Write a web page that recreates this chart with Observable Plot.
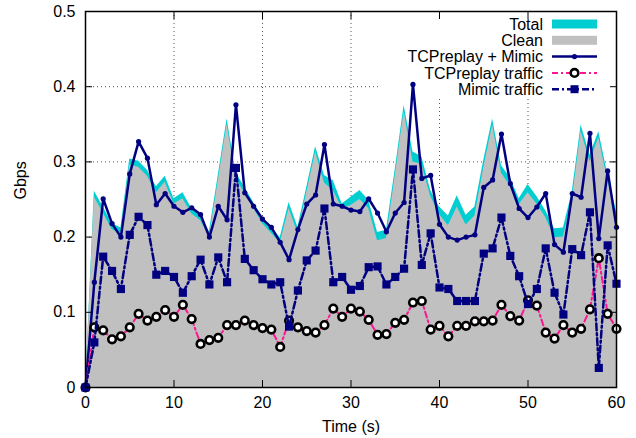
<!DOCTYPE html>
<html>
<head>
<meta charset="utf-8">
<script src="https://cdn.jsdelivr.net/npm/d3@7"></script>
<script src="https://cdn.jsdelivr.net/npm/@observablehq/plot@0.6"></script>
<style>
  html, body { margin: 0; padding: 0; background: #fff; }
  #chart { width: 636px; height: 438px; }
</style>
</head>
<body>
<div id="chart"></div>
<script>
// ---- Data ----
const time = d3.range(0, 61);
const xTicks = [0, 10, 20, 30, 40, 50, 60];
const yTicks = [0, 0.1, 0.2, 0.3, 0.4, 0.5];
const xLabel = "Time (s)";
const yLabel = "Gbps";

const total = [0, 0.261, 0.240, 0.218, 0.212, 0.304, 0.301, 0.289, 0.267, 0.281,
  0.251, 0.259, 0.238, 0.229, 0.207, 0.282, 0.357, 0.286, 0.266, 0.246,
  0.226, 0.213, 0.199, 0.246, 0.213, 0.266, 0.320, 0.282, 0.275, 0.244,
  0.253, 0.262, 0.249, 0.206, 0.209, 0.290, 0.375, 0.313, 0.307, 0.262,
  0.240, 0.228, 0.255, 0.229, 0.240, 0.302, 0.357, 0.295, 0.279, 0.251,
  0.270, 0.254, 0.235, 0.211, 0.212, 0.260, 0.349, 0.309, 0.340, 0.284, 0.234];

const clean = [0, 0.253, 0.232, 0.210, 0.204, 0.296, 0.293, 0.281, 0.259, 0.273,
  0.244, 0.251, 0.231, 0.222, 0.200, 0.275, 0.350, 0.278, 0.258, 0.238,
  0.218, 0.205, 0.192, 0.238, 0.205, 0.259, 0.313, 0.272, 0.262, 0.238,
  0.242, 0.250, 0.238, 0.195, 0.198, 0.282, 0.367, 0.300, 0.297, 0.254,
  0.230, 0.215, 0.240, 0.216, 0.228, 0.292, 0.349, 0.285, 0.268, 0.243,
  0.259, 0.244, 0.226, 0.199, 0.200, 0.250, 0.341, 0.300, 0.332, 0.276, 0.226];

const tcpMimic = [0, 0.140, 0.251, 0.218, 0.200, 0.284, 0.327, 0.305, 0.243, 0.258,
  0.241, 0.233, 0.239, 0.230, 0.200, 0.241, 0.223, 0.376, 0.259, 0.241,
  0.224, 0.213, 0.193, 0.170, 0.210, 0.244, 0.256, 0.323, 0.244, 0.241,
  0.236, 0.234, 0.251, 0.232, 0.207, 0.232, 0.246, 0.403, 0.278, 0.282,
  0.217, 0.200, 0.196, 0.200, 0.203, 0.266, 0.276, 0.337, 0.271, 0.238,
  0.226, 0.240, 0.258, 0.190, 0.180, 0.258, 0.253, 0.338, 0.198, 0.288, 0.213];

const tcpreplay = [0, 0.080, 0.076, 0.064, 0.068, 0.080, 0.098, 0.089, 0.094, 0.103,
  0.094, 0.110, 0.091, 0.058, 0.063, 0.066, 0.083, 0.083, 0.089, 0.083,
  0.079, 0.077, 0.054, 0.089, 0.080, 0.075, 0.073, 0.083, 0.105, 0.094,
  0.105, 0.101, 0.090, 0.070, 0.071, 0.086, 0.090, 0.113, 0.115, 0.077,
  0.082, 0.068, 0.082, 0.082, 0.088, 0.088, 0.089, 0.110, 0.095, 0.089,
  0.116, 0.109, 0.073, 0.065, 0.083, 0.073, 0.078, 0.104, 0.172, 0.098, 0.078];

const mimic = [0, 0.060, 0.174, 0.155, 0.131, 0.203, 0.227, 0.216, 0.150, 0.155,
  0.147, 0.126, 0.148, 0.170, 0.137, 0.173, 0.140, 0.292, 0.171, 0.156,
  0.144, 0.137, 0.140, 0.081, 0.129, 0.169, 0.182, 0.238, 0.140, 0.147,
  0.130, 0.135, 0.160, 0.161, 0.137, 0.147, 0.158, 0.290, 0.163, 0.205,
  0.133, 0.131, 0.115, 0.115, 0.115, 0.178, 0.185, 0.226, 0.175, 0.148,
  0.111, 0.131, 0.185, 0.126, 0.097, 0.184, 0.176, 0.233, 0.026, 0.189, 0.138];

const seriesNames = ["Total", "Clean", "TCPreplay + Mimic", "TCPreplay traffic", "Mimic traffic"];

// ---- Styles ----
const C_TOTAL = "#00ced1";
const C_CLEAN = "#c0c0c0";
const C_NAVY = "#000080";
const C_PINK = "#ff1493";
const FONT = "'Liberation Sans', Arial, Helvetica, sans-serif";

const rows = time.map((t, i) => ({
  t, total: total[i], clean: clean[i], tcpMimic: tcpMimic[i],
  tcpreplay: tcpreplay[i], mimic: mimic[i]
}));

// Legend (inside plot, opaque white box, top-right) drawn with the library's render hook
function legend(index, scales, values, dimensions) {
  const g = d3.create("svg:g").attr("font-family", FONT).attr("font-size", 16);
  g.append("rect").attr("x", 380).attr("y", 12).attr("width", 234).attr("height", 85).attr("fill", "white");
  const textX = 543, s1 = 552, s2 = 597, mid = (s1 + s2) / 2;
  seriesNames.forEach((name, i) => {
    const y = 24 + i * 16.3;
    g.append("text").attr("x", textX).attr("y", y).attr("dy", "0.35em")
      .attr("text-anchor", "end").attr("fill", "black").text(name);
    if (i === 0) {
      g.append("rect").attr("x", s1).attr("y", y - 4.5).attr("width", s2 - s1).attr("height", 9).attr("fill", C_TOTAL);
    } else if (i === 1) {
      g.append("rect").attr("x", s1).attr("y", y - 4.5).attr("width", s2 - s1).attr("height", 9).attr("fill", C_CLEAN);
    } else if (i === 2) {
      g.append("line").attr("x1", s1).attr("x2", s2).attr("y1", y).attr("y2", y).attr("stroke", C_NAVY).attr("stroke-width", 2.5);
      g.append("circle").attr("cx", mid).attr("cy", y).attr("r", 2.6).attr("fill", C_NAVY);
    } else if (i === 3) {
      g.append("line").attr("x1", s1).attr("x2", s2).attr("y1", y).attr("y2", y).attr("stroke", C_PINK).attr("stroke-width", 2).attr("stroke-dasharray", "6,3,2,3");
      g.append("circle").attr("cx", mid).attr("cy", y).attr("r", 3.8).attr("fill", "white").attr("stroke", "black").attr("stroke-width", 2.6);
    } else {
      g.append("line").attr("x1", s1).attr("x2", s2).attr("y1", y).attr("y2", y).attr("stroke", C_NAVY).attr("stroke-width", 2.5).attr("stroke-dasharray", "7,3,2,3");
      g.append("rect").attr("x", mid - 4).attr("y", y - 4).attr("width", 8).attr("height", 8).attr("fill", C_NAVY);
    }
  });
  return g.node();
}

const chart = Plot.plot({
  width: 636,
  height: 438,
  marginLeft: 85,
  marginRight: 20,
  marginTop: 11,
  marginBottom: 51,
  style: { fontFamily: FONT, fontSize: "16px", background: "white", color: "black", overflow: "visible" },
  x: { domain: [0, 60], ticks: xTicks, label: null },
  y: { domain: [0, 0.5], ticks: yTicks, label: null },
  marks: [
    Plot.gridY(yTicks.slice(1, -1), { stroke: "#555", strokeOpacity: 1, strokeWidth: 1, strokeDasharray: "1,3" }),
    Plot.gridX(xTicks.slice(1, -1), { stroke: "#555", strokeOpacity: 1, strokeWidth: 1, strokeDasharray: "1,3" }),
    legend,
    Plot.areaY(rows, { x: "t", y: "total", fill: C_TOTAL, curve: "linear" }),
    Plot.areaY(rows, { x: "t", y: "clean", fill: C_CLEAN, curve: "linear" }),
    Plot.line(rows, { x: "t", y: "tcpMimic", stroke: C_NAVY, strokeWidth: 2.5 }),
    Plot.dot(rows, { x: "t", y: "tcpMimic", fill: C_NAVY, r: 2.6, symbol: "circle" }),
    Plot.line(rows, { x: "t", y: "tcpreplay", stroke: C_PINK, strokeWidth: 2, strokeDasharray: "6,3,2,3" }),
    Plot.dot(rows, { x: "t", y: "tcpreplay", fill: "white", stroke: "black", strokeWidth: 2.6, r: 3.8 }),
    Plot.line(rows, { x: "t", y: "mimic", stroke: C_NAVY, strokeWidth: 2.5, strokeDasharray: "7,3,2,3" }),
    Plot.dot(rows, { x: "t", y: "mimic", fill: C_NAVY, symbol: "square", r: 4.6 }),
    Plot.axisY(yTicks, { anchor: "left", tickSize: -7, tickPadding: 17, tickFormat: d => d3.format("")(d), label: null, fontSize: 16 }),
    Plot.axisY(yTicks, { anchor: "right", tickSize: -7, tickFormat: () => "", label: null }),
    Plot.axisX(xTicks, { anchor: "bottom", tickSize: -7, tickPadding: 16, label: null, fontSize: 16 }),
    Plot.axisX(xTicks, { anchor: "top", tickSize: -7, tickFormat: () => "", label: null }),
    Plot.text([yLabel], { text: d => d, frameAnchor: "left", dx: -65, rotate: -90, fontSize: 16, fill: "black" }),
    Plot.text([xLabel], { text: d => d, frameAnchor: "bottom", dy: 44, fontSize: 16, fill: "black" }),
    Plot.frame({ stroke: "black", strokeWidth: 1.5 })
  ]
});
document.getElementById("chart").appendChild(chart);
</script>
</body>
</html>
